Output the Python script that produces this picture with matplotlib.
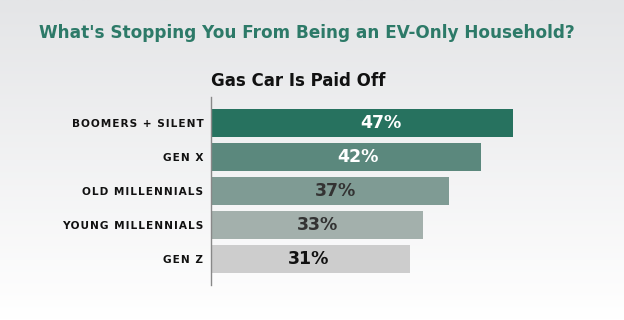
import matplotlib
matplotlib.use("Agg")
import matplotlib.pyplot as plt
import numpy as np
from matplotlib.colors import LinearSegmentedColormap

categories = ["BOOMERS + SILENT", "GEN X", "OLD MILLENNIALS", "YOUNG MILLENNIALS", "GEN Z"]
values = [47, 42, 37, 33, 31]
bar_colors = ["#27725f", "#5b887d", "#7f9b94", "#a3b0ac", "#cdcdcd"]
label_colors = ["#ffffff", "#ffffff", "#333333", "#333333", "#111111"]
title = "What's Stopping You From Being an EV-Only Household?"
subtitle = "Gas Car Is Paid Off"

def spaced(s):
    return "\u200a".join(s)

fig = plt.figure(figsize=(6.24, 3.2), dpi=100)

# background gradient
bg = fig.add_axes([0, 0, 1, 1], zorder=-10)
grad = np.linspace(0, 1, 256).reshape(-1, 1)
cmap = LinearSegmentedColormap.from_list("bg", ["#e4e5e7", "#ffffff"])
bg.imshow(grad, aspect="auto", cmap=cmap, extent=[0, 1, 0, 1], origin="upper")
bg.axis("off")

ax = fig.add_axes([211/624, 1-285/320, (600-211)/624, 188/320])
ax.patch.set_alpha(0)
y = np.arange(len(categories))
ax.barh(y, values, height=0.85, color=bar_colors)
ax.set_ylim(len(categories) - 1 + 0.765, -0.765)
ax.set_xlim(0, 60.5)
for s in ["top", "right", "bottom"]:
    ax.spines[s].set_visible(False)
ax.spines["left"].set_color("#888888")
ax.spines["left"].set_linewidth(1)
ax.set_xticks([])
ax.set_yticks(y)
ax.set_yticklabels([spaced(c) for c in categories], fontsize=7.6, fontweight="bold", color="#111111")
ax.tick_params(axis="y", length=0, pad=5.5)

for i, v in enumerate(values):
    ax.text(0.7 * v - 6.5, i, f"{v}%", ha="center", va="center", fontsize=12.5,
            fontweight="bold", color=label_colors[i])

fig.text(307/624, 1-33/320, title, ha="center", va="center", fontsize=12.2,
         fontweight="bold", color="#2d7a68")
fig.text(211/624, 1-81/320, subtitle, ha="left", va="center", fontsize=12,
         fontweight="bold", color="#111111")

fig.savefig("out.png", dpi=100)
